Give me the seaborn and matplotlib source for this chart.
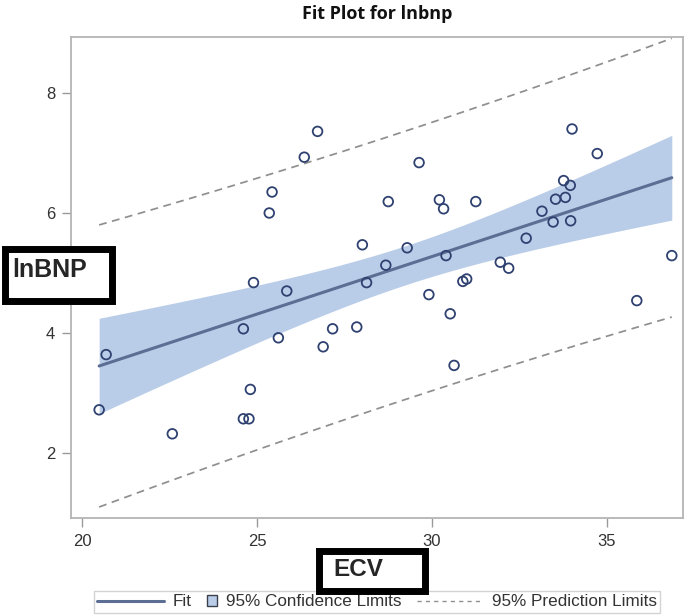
import numpy as np
import pandas as pd
import matplotlib
matplotlib.use('Agg')
import matplotlib.pyplot as plt
from matplotlib.lines import Line2D
from matplotlib.patches import Patch, Rectangle
import seaborn as sns

# ECV vs lnBNP
ecv = [26.73, 26.35, 25.43, 25.35, 28.01, 28.13, 24.90, 25.85, 24.61, 25.61,
       27.16, 27.85, 26.89, 20.69, 20.49, 22.58, 24.81, 24.61, 24.77, 34.00,
       34.72, 29.63, 28.75, 30.21, 30.33, 31.25, 33.76, 33.95, 33.53, 33.81,
       33.14, 33.46, 33.96, 32.69, 29.29, 28.68, 30.40, 31.95, 32.19, 30.88,
       30.99, 29.91, 30.52, 36.85, 35.85, 30.63]
lnbnp = [7.36, 6.93, 6.35, 6.00, 5.47, 4.84, 4.84, 4.70, 4.07, 3.92,
         4.07, 4.10, 3.77, 3.64, 2.72, 2.32, 3.06, 2.57, 2.57, 7.40,
         6.99, 6.84, 6.19, 6.22, 6.07, 6.19, 6.54, 6.46, 6.23, 6.26,
         6.03, 5.85, 5.87, 5.58, 5.42, 5.13, 5.29, 5.18, 5.08, 4.86,
         4.90, 4.64, 4.32, 5.29, 4.54, 3.46]
xticks = [20, 25, 30, 35]
yticks = [2, 4, 6, 8]

df = pd.DataFrame({'ECV': ecv, 'lnbnp': lnbnp})

# simple OLS with 95% confidence and prediction limits
x = df['ECV'].values
y = df['lnbnp'].values
n = len(x)
b1, b0 = np.polyfit(x, y, 1)
resid = y - (b0 + b1 * x)
s = np.sqrt(np.sum(resid ** 2) / (n - 2))
sxx = np.sum((x - x.mean()) ** 2)
t = 2.0154  # t(0.975, df=44)

xs = np.linspace(x.min(), x.max(), 200)
fit = b0 + b1 * xs
se_mean = s * np.sqrt(1 / n + (xs - x.mean()) ** 2 / sxx)
se_pred = s * np.sqrt(1 + 1 / n + (xs - x.mean()) ** 2 / sxx)
fitdf = pd.DataFrame({'x': xs, 'fit': fit,
                      'clm_lo': fit - t * se_mean, 'clm_hi': fit + t * se_mean,
                      'pl_lo': fit - t * se_pred, 'pl_hi': fit + t * se_pred})

sns.set_style('white')
plt.rcParams['font.family'] = ['Liberation Sans', 'DejaVu Sans']

band_col = '#bacde8'
fit_col = '#5c6e93'
pred_col = '#8f8f8f'
pt_col = '#2f4170'
frame_col = '#b4b4b4'

fig = plt.figure(figsize=(6.85, 6.16), dpi=100)
ax = fig.add_axes([71 / 685, 1 - 518 / 616, 612 / 685, 481 / 616])

ax.fill_between(fitdf['x'], fitdf['clm_lo'], fitdf['clm_hi'],
                color=band_col, lw=0, zorder=1)
sns.lineplot(data=fitdf, x='x', y='fit', color=fit_col, lw=2.2, ax=ax,
             legend=False, zorder=2)
sns.lineplot(data=fitdf, x='x', y='pl_hi', color=pred_col, lw=1.25,
             linestyle=(0, (4.5, 3.2)), ax=ax, legend=False, zorder=2)
sns.lineplot(data=fitdf, x='x', y='pl_lo', color=pred_col, lw=1.25,
             linestyle=(0, (4.5, 3.2)), ax=ax, legend=False, zorder=2)
sns.scatterplot(data=df, x='ECV', y='lnbnp', ax=ax, marker='o', s=48,
                facecolor='none', edgecolor=pt_col, linewidth=1.3, zorder=3)

ax.set_xlim(19.686, 37.17)
ax.set_ylim(0.917, 8.933)
ax.set_xticks(xticks)
ax.set_yticks(yticks)
ax.set_xlabel('')
ax.set_ylabel('')
for sp in ax.spines.values():
    sp.set_color(frame_col)
    sp.set_linewidth(1.3)
ax.tick_params(axis='both', which='major', bottom=True, left=True,
               direction='out', length=6.5, width=1.0,
               color='#9a9a9a', labelsize=12, labelcolor='#333333')
ax.tick_params(axis='x', pad=5)
ax.tick_params(axis='y', pad=5)

ax.set_title('Fit Plot for lnbnp', fontsize=13, fontweight='bold',
             family=['Open Sans', 'DejaVu Sans'], pad=13, color='#111111')


# square swatch for the confidence band entry
class SquareHandler:
    def legend_artist(self, legend, orig_handle, fontsize, handlebox):
        sz = 0.6 * fontsize
        handlebox.width = sz
        r = Rectangle((-handlebox.xdescent,
                       -handlebox.ydescent + (handlebox.height - sz) / 2),
                      sz, sz, facecolor=band_col, edgecolor='#3a3f4a', lw=1.0,
                      transform=handlebox.get_transform())
        handlebox.add_artist(r)
        return r


handles = [Line2D([], [], color=fit_col, lw=2.2),
           Patch(facecolor=band_col),
           Line2D([], [], color=pred_col, lw=1.0, linestyle=(0, (3, 3)))]
labels = ['Fit', '95% Confidence Limits', '95% Prediction Limits']
leg = fig.legend(handles, labels, loc='center', bbox_to_anchor=(377 / 685, 1 - 602 / 616),
                 ncol=3, fontsize=12.3, frameon=True, fancybox=False,
                 handlelength=3.9, handletextpad=0.5, columnspacing=0.9,
                 borderpad=0.2, handler_map={Patch: SquareHandler()})
leg.get_frame().set_edgecolor('#c8c8c8')
leg.get_frame().set_linewidth(1.0)
for txt in leg.get_texts():
    txt.set_color('#333333')

# boxed annotations
fig.patches.append(Rectangle((4.5 / 685, 1 - 300.5 / 616), 107 / 685, 52 / 616,
                             transform=fig.transFigure, facecolor='white',
                             edgecolor='black', lw=5, zorder=10))
fig.text(12 / 685, 1 - 270 / 616, 'lnBNP', fontsize=18, fontweight='bold',
         ha='left', va='center', zorder=11)
fig.patches.append(Rectangle((318.5 / 685, 1 - 590.5 / 616), 106 / 685, 40 / 616,
                             transform=fig.transFigure, facecolor='white',
                             edgecolor='black', lw=5, zorder=10))
fig.text(358 / 685, 1 - 570 / 616, 'ECV', fontsize=17.5, fontweight='bold',
         ha='center', va='center', zorder=11)

fig.savefig('out.png', dpi=100)
